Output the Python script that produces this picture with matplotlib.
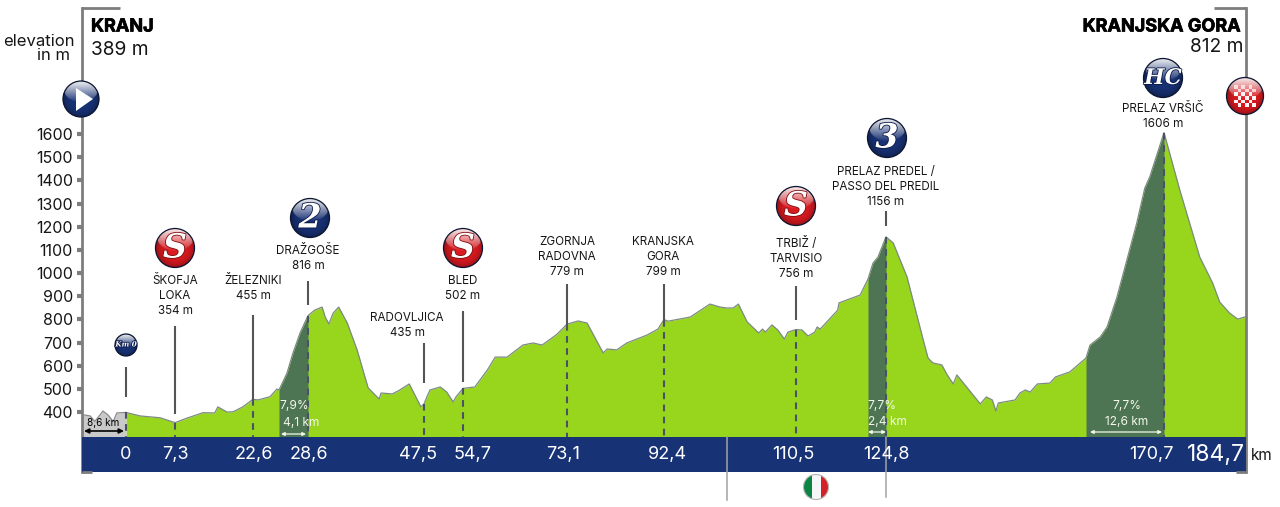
import matplotlib
matplotlib.use('Agg')
import matplotlib.pyplot as plt
import matplotlib.patheffects as pe
from matplotlib.patches import Circle, Rectangle, Polygon
from matplotlib.ticker import NullLocator
import numpy as np

plt.rcParams['font.family'] = ['Inter', 'DejaVu Sans']

# Course profile: distance (km, negative = neutral zone) and elevation (m)
neutral_km = [-8.6, -7.0, -6.1, -4.5, -3.5, -2.5, -1.8, 0.0]
neutral_m = [389, 383, 359, 404, 387, 359, 396, 398]

route_km = [0.0, 2.1, 5.1, 7.3, 9.7, 12.8, 15.1, 15.7, 17.5, 18.7, 20.6, 22.6, 22.96, 23.84,
            24.35, 24.5, 25.63, 26.48, 27.47, 28.6, 29.7, 30.9, 31.4, 32.0, 32.7, 33.6, 35.0,
            36.6, 38.4, 40.2, 40.5, 42.3, 43.3, 45.1, 47.0, 47.5, 48.1, 48.6, 50.5, 51.7, 52.9,
            53.4, 54.7, 56.8, 59.0, 60.4, 62.5, 65.3, 67.1, 68.7, 71.3, 73.1, 75.3, 77.1, 80.3,
            81.1, 83.0, 85.0, 89.0, 91.2, 92.4, 92.95, 96.0, 98.7, 100.1, 101.0, 101.9, 102.6,
            103.8, 105.4, 105.9, 106.3, 107.2, 108.0, 108.9, 109.4, 110.5, 111.5, 112.5, 113.6,
            114.0, 114.5, 117.4, 117.6, 121.1, 122.4, 123.07, 123.73, 124.8, 126.0, 128.3, 131.0,
            131.8, 132.6, 134.1, 135.0, 136.0, 136.6, 140.5, 141.5, 142.5, 143.1, 143.5, 146.3,
            147.1, 148.0, 148.8, 150.0, 152.1, 153.0, 155.4, 158.1, 158.75, 160.4, 161.5, 163.1,
            164.7, 166.3, 167.6, 168.4, 170.7, 173.4, 176.8, 179.0, 180.2, 181.9, 183.3, 184.7]
route_m = [398, 383, 375, 354, 374, 397, 396, 422, 400, 401, 422, 455, 452, 466,
           499, 495, 568, 655, 741, 816, 840, 853, 810, 780, 827, 853, 784,
           668, 504, 456, 482, 478, 491, 521, 422, 435, 469, 495, 508, 486, 443,
           465, 502, 508, 581, 637, 637, 689, 698, 689, 735, 779, 793, 784, 655,
           672, 668, 698, 732, 758, 799, 792, 810, 866, 853, 849, 849, 866,
           789, 741, 758, 745, 776, 754, 715, 745, 756, 754, 728, 745,
           767, 758, 840, 871, 905, 974, 1043, 1069, 1156, 1130, 983, 711,
           633, 612, 603, 560, 521, 560, 435, 465, 452, 404, 439, 452,
           482, 495, 486, 521, 525, 551, 573, 633, 689, 724, 767, 896,
           1056, 1216, 1367, 1415, 1606, 1358, 1069, 957, 875, 827, 801, 812]

# Timing points along the route
place_names = ['ŠKOFJA\nLOKA', 'ŽELEZNIKI', 'DRAŽGOŠE', 'RADOVLJICA', 'BLED', 'ZGORNJA\nRADOVNA',
               'KRANJSKA\nGORA', 'TRBIŽ /\nTARVISIO', 'PRELAZ PREDEL /\nPASSO DEL PREDIL', 'PRELAZ VRŠIČ']
place_km = [7.3, 22.6, 28.6, 47.5, 54.7, 73.1, 92.4, 110.5, 124.8, 170.7]
place_m = [354, 455, 816, 435, 502, 779, 799, 756, 1156, 1606]
km_labels = ['0', '7,3', '22,6', '28,6', '47,5', '54,7', '73,1', '92,4', '110,5', '124,8', '170,7']
km_label_px = [126, 175, 254, 309, 418, 473, 563, 667, 793, 886, 1151]

# Categorised climbs
climb_end_km = [28.6, 124.8, 170.7]
climb_len_km = [4.1, 2.4, 12.6]
climb_grade = ['7,9%', '7,7%', '7,7%']
y_ticks = list(range(400, 1700, 100))

# The km bar is not drawn to a uniform scale, so map stated distance to drawn position
scale_km = [-8.6, 0, 7.3, 22.6, 24.5, 28.6, 47.5, 54.7, 73.1, 92.4, 110.5, 122.4, 124.8, 158.1, 170.7, 184.7]
scale_px = [82, 126, 175, 253, 279, 308, 424, 463, 567, 664, 796, 868, 886, 1086, 1164, 1246]


def km_to_px(km):
    return np.interp(km, scale_km, scale_px)


def px_to_km(px):
    return np.interp(px, scale_px, scale_km)


W, H = 1280, 507
GROUND = 294
GREEN = '#97d61c'
DARK = '#4e7553'
NAVY = '#183276'
RED = '#dc1a20'
GREY = '#7d7d7d'
INK = '#161616'

fig = plt.figure(figsize=(12.8, 5.07), dpi=100)

# Main axes: elevation against distance
ax = fig.add_axes([82 / W, 1 - 472 / H, (1246 - 82) / W, (472 - 8) / H])
ax.set_xscale('function', functions=(km_to_px, px_to_km))
ax.set_xlim(-8.6, 184.7)
ax.set_ylim(141, 2144)
ax.xaxis.set_major_locator(NullLocator())
ax.xaxis.set_minor_locator(NullLocator())
ax.set_yticks(y_ticks)
ax.tick_params(axis='y', length=3.5, width=3, color=GREY, pad=3, labelsize=11.5, labelcolor=INK)
for side in ('top', 'bottom'):
    ax.spines[side].set_visible(False)
for side in ('left', 'right'):
    ax.spines[side].set_color(GREY)
    ax.spines[side].set_linewidth(2)

ax.fill_between(route_km, GROUND, route_m, color=GREEN, lw=0, zorder=1)
ax.fill_between(neutral_km, GROUND, neutral_m, color='#c9c9c9', lw=0, zorder=1)

# Darker shading under the last part of each climb
for end, length in zip(climb_end_km, climb_len_km):
    start = end - length
    inside = [(k, m) for k, m in zip(route_km, route_m) if start < k < end]
    xs = [start] + [p[0] for p in inside] + [end]
    ys = [np.interp(start, route_km, route_m)] + [p[1] for p in inside] + [np.interp(end, route_km, route_m)]
    ax.fill_between(xs, GROUND - 3, ys, color=DARK, lw=0, zorder=2)

ax.plot(route_km, route_m, color='#7c8a80', lw=0.9, zorder=3)
ax.plot(neutral_km, neutral_m, color='#8a8a8a', lw=0.9, zorder=3)
ax.axhspan(141, GROUND - 3, color=NAVY, lw=0, zorder=4)

# Dashed drop lines from the profile to the km bar
for km in [0.0] + place_km:
    ax.plot([km, km], [np.interp(km, route_km, route_m), GROUND], color='#4a4f6a', lw=1.5,
            dashes=(3.2, 2.6), zorder=5)

# Second axes in pixel units for furniture that sits at fixed heights
over = fig.add_axes([0, 0, 1, 1])
over.set_xlim(0, W)
over.set_ylim(H, 0)
over.axis('off')
over.patch.set_alpha(0)


def badge_image(rgb, n=90):
    v, u = np.mgrid[-1:1:n * 1j, -1:1:n * 1j]
    r = np.hypot(u, v)
    base = np.array(matplotlib.colors.to_rgb(rgb))
    img = base[None, None, :] * (1 - 0.3 * np.clip(r, 0, 1)[..., None] ** 4)
    gloss = ((u / 0.94) ** 2 + ((v + 0.5) / 0.66) ** 2) < 1
    alpha = np.clip(0.95 * (0.2 - v) / 1.2, 0, 0.85)[..., None] * gloss[..., None]
    return img * (1 - alpha) + alpha


def badge(x, y, r, rgb):
    im = over.imshow(badge_image(rgb), extent=(x - r, x + r, y + r, y - r), origin='upper',
                     aspect='auto', zorder=10, interpolation='bilinear')
    im.set_clip_path(Circle((x, y), r, transform=over.transData))
    over.add_patch(Circle((x, y), r, fc='none', ec='#0b1430', lw=0.9, zorder=11))
    over.set_xlim(0, W)
    over.set_ylim(H, 0)


def badge_text(x, y, s, size, edge):
    over.text(x, y, s, ha='center', va='center', color='white', fontsize=size, zorder=12,
              family='DejaVu Serif', weight='bold', style='italic',
              path_effects=[pe.withStroke(linewidth=1.2, foreground=edge)])


# Axis frame details
for x0, x1, y in [(82, 120, 8), (1214, 1246, 8), (82, 92, 472), (1236, 1246, 472)]:
    over.plot([x0, x1], [y, y], color=GREY, lw=2, solid_capstyle='butt', zorder=6)

# Country border and the Italian section
for x_px, y0, y1 in [(727, 437, 500), (886, 437, 497)]:
    over.plot([x_px, x_px], [y0, y1], color='#a3a3a3', lw=1.1, zorder=6)

# Leader lines above the profile
leader_px = [(126, 367, 397), (175, 326, 414), (253, 315, 400), (308, 281, 305), (424, 343, 383),
             (463, 311, 382), (567, 284, 330), (664, 284, 325), (796, 286, 320), (886, 211, 226)]
for x_px, y0, y1 in leader_px:
    over.plot([x_px, x_px], [y0, y1], color='#555555', lw=1.5, solid_capstyle='butt', zorder=6)

# Place names with their elevations
name_y = [281, 281, 251, 318, 281, 242, 242, 244, 172, 109]
name_x = [175, 253, 308, 407, 463, 567, 663, 796, 886, 1163]
for name, m, x_px, y in zip(place_names, place_m, name_x, name_y):
    for i, line in enumerate(name.split('\n') + [f'{m} m']):
        over.text(x_px, y + i * 15.2, line, ha='center', va='center', fontsize=8.4, color=INK, zorder=8)

# Km bar labels
for s, x_px in zip(km_labels, km_label_px):
    over.text(x_px, 454.5, s, ha='center', va='center', color='white', fontsize=13, zorder=8)
over.text(1216, 455, '184,7', ha='center', va='center', color='white', fontsize=16.5, zorder=8)
over.text(1262, 456, 'km', ha='center', va='center', color=INK, fontsize=11)

# Start and finish headings
heavy = [pe.withStroke(linewidth=0.5, foreground='black')]
over.text(91, 27, 'KRANJ', ha='left', va='center', fontsize=13, weight='bold', color='black', path_effects=heavy)
over.text(91, 50, '389 m', ha='left', va='center', fontsize=13.8, color=INK)
over.text(1241, 27, 'KRANJSKA GORA', ha='right', va='center', fontsize=13, weight='bold', color='black',
          path_effects=heavy)
over.text(1243, 47, '812 m', ha='right', va='center', fontsize=13.8, color=INK)
over.text(75, 42, 'elevation', ha='right', va='center', fontsize=12, color=INK)
over.text(70, 55, 'in m', ha='right', va='center', fontsize=12, color=INK)

# Climb annotations inside the shading
grade_pos = [(294, 406, 301, 423, 281, 306, 434), (882, 406, 887, 422, 868, 886, 432),
             (1127, 406, 1127, 422, 1090, 1162, 432)]
for grade, length, pos in zip(climb_grade, climb_len_km, grade_pos):
    gx, gy, lx, ly, a0, a1, ay = pos
    over.text(gx, gy, grade, ha='center', va='center', color='#f2f7ea', fontsize=8.6, zorder=8)
    over.text(lx, ly, f'{length:.1f} km'.replace('.', ','), ha='center', va='center',
              color='#f2f7ea', fontsize=8.6, zorder=8)
    over.annotate('', xy=(a1, ay), xytext=(a0, ay), zorder=8,
                  arrowprops=dict(arrowstyle='<|-|>', color='#f2f7ea', lw=0.9, mutation_scale=5,
                                  shrinkA=0, shrinkB=0))

# Neutral zone length
over.text(103, 423.5, '8,6 km', ha='center', va='center', color='black', fontsize=7.2, zorder=8)
over.annotate('', xy=(124, 431), xytext=(84, 431), zorder=8,
              arrowprops=dict(arrowstyle='<|-|>', color='black', lw=1.2, mutation_scale=7,
                              shrinkA=0, shrinkB=0))

# Route badges
badge(81, 99, 18, NAVY)
over.add_patch(Polygon([(76, 88), (76, 111), (93, 99)], fc='white', ec='none', zorder=12))
badge(126, 345, 11, NAVY)
badge_text(126, 344.5, 'Km 0', 5.2, '#0b1a4a')
for x_px, y in [(175, 248), (463, 248), (796, 206)]:
    badge(x_px, y, 19.5, RED)
    badge_text(x_px, y, 'S', 24, '#7e0b10')
for x_px, y, s, size in [(310, 218, '2', 24), (887, 138, '3', 24), (1163, 78, 'HC', 15.5)]:
    badge(x_px, y, 19.5, NAVY)
    badge_text(x_px, y, s, size, '#0b1a4a')

# Finish badge with its chequered flag
badge(1245, 96, 18.5, RED)
cell = 3.6
for row in range(6):
    for col in range(6):
        if (row + col) % 2 == 0:
            over.add_patch(Rectangle((1245 - 3 * cell + col * cell, 96 - 3 * cell + row * cell), cell, cell,
                                     fc='white', ec='none', alpha=0.95 if row > 1 else 0.7, zorder=12))

# Italian flag marker
flag = np.array([[[0.05, 0.52, 0.27], [0.97, 0.97, 0.97], [0.82, 0.14, 0.16]]])
flag_im = over.imshow(flag, extent=(803.5, 828.5, 499.5, 474.5), aspect='auto', zorder=10,
                      interpolation='nearest')
flag_im.set_clip_path(Circle((816, 487), 12.5, transform=over.transData))
over.add_patch(Circle((816, 487), 12.5, fc='none', ec='#b5b5b5', lw=0.8, zorder=11))
over.set_xlim(0, W)
over.set_ylim(H, 0)

fig.savefig('out.png', dpi=100)
